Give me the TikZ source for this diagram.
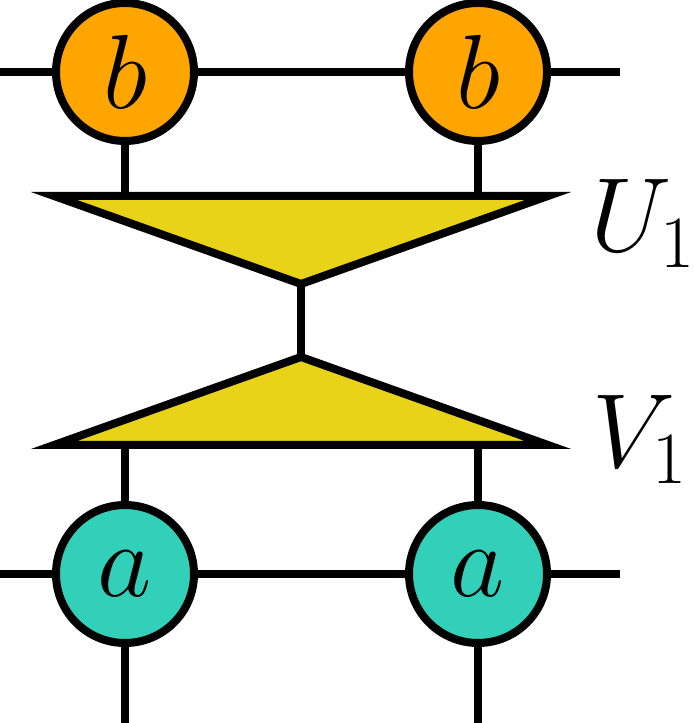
\RequirePackage{fix-cm}
\documentclass[tikz,border=0pt]{standalone}
\usetikzlibrary{positioning}
\definecolor{tnOrange}{HTML}{FFA500}
\definecolor{tnTeal}{HTML}{33D0B9}
\definecolor{tnYellow}{HTML}{E8D318}
\tikzset{
  leg/.style={draw=black, line width=0.08cm},
  site/.style={circle, draw=black, line width=0.08cm, minimum size=1.38cm,
              inner sep=0pt, font=\fontsize{30}{36}\selectfont},
  bsite/.style={site, fill=tnOrange},
  asite/.style={site, fill=tnTeal},
  iso/.style={draw=black, fill=tnYellow, line width=0.08cm, line join=miter},
  lbl/.style={font=\fontsize{30}{36}\selectfont, anchor=base west, inner sep=0pt},
}
\begin{document}
\begin{tikzpicture}
  \useasboundingbox (0,0) rectangle (6.93,-7.23);
  % sites
  \node[bsite] (b1) at (1.25,-0.72) {$b$};
  \node[bsite] (b2) at (4.78,-0.72) {$b$};
  \node[asite] (a1) at (1.25,-5.74) {$a$};
  \node[asite] (a2) at (4.78,-5.74) {$a$};
  % isometries
  \coordinate (Uw) at (0.54,-1.96);
  \coordinate (Ue) at (5.48,-1.96);
  \coordinate (Utip) at (3.01,-2.84);
  \coordinate (Vw) at (0.54,-4.45);
  \coordinate (Ve) at (5.48,-4.45);
  \coordinate (Vtip) at (3.01,-3.57);
  \coordinate (topL) at (0,-0.72);
  \coordinate (topR) at (6.20,-0.72);
  \coordinate (botL) at (0,-5.74);
  \coordinate (botR) at (6.20,-5.74);
  % legs
  \draw[leg] (topL) -- (b1) -- (b2) -- (topR);
  \draw[leg] (botL) -- (a1) -- (a2) -- (botR);
  \foreach \s in {1,2}{
    \draw[leg] (b\s) -- (b\s |- Uw);
    \draw[leg] (a\s) -- (a\s |- Vw);
    \draw[leg] (a\s) -- (a\s |- 0,-7.23);}
  \draw[leg] (Utip) -- (Vtip);
  \draw[iso] (Uw) -- (Ue) -- (Utip) -- cycle;
  \draw[iso] (Vw) -- (Ve) -- (Vtip) -- cycle;
  \node[lbl] (U) at (5.90,-2.52) {$U_1$};
  \node[lbl] (V) at (5.92,-4.68) {$V_1$};
\end{tikzpicture}
\end{document}
